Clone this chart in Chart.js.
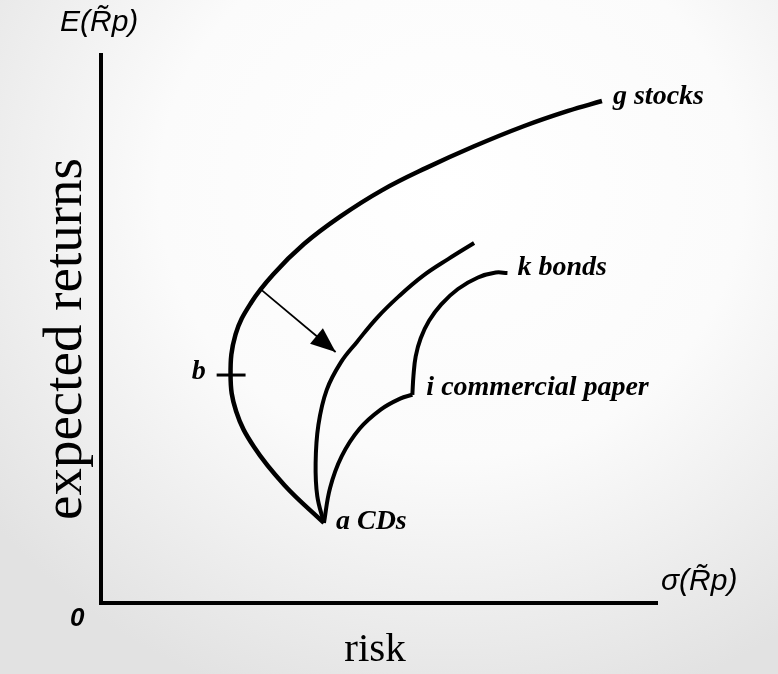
<!DOCTYPE html>
<html>
<head>
<meta charset="utf-8">
<style>
  html, body { margin: 0; padding: 0; background: #fff; }
  #wrap {
    width: 778px; height: 674px; position: relative;
    background: radial-gradient(ellipse 75% 80% at 58% 28%, #ffffff 0%, #fbfbfb 50%, #e2e2e2 100%);
  }
</style>
<script src="https://cdn.jsdelivr.net/npm/chart.js@4.4.1/dist/chart.umd.min.js"></script>
</head>
<body>
<div id="wrap"><canvas id="c" width="778" height="674"></canvas></div>
<script>
// Frontier with every asset (a CDs -> b -> g stocks)
const frontierRisk   = [40.1, 33.0, 27.5, 24.3, 23.3, 24.2, 27.0, 31.0, 36.5, 43.0, 50.5, 58.5, 67.0, 76.0, 84.0, 90.1];
const frontierReturn = [14.6, 21.5, 28.5, 35.0, 41.6, 49.0, 54.8, 60.0, 65.5, 70.5, 75.3, 79.4, 83.3, 87.0, 89.8, 91.6];

// Frontier after the shift (arrow)
const shiftedRisk   = [40.1, 38.9, 38.6, 39.1, 40.6, 43.2, 46.0, 49.6, 53.6, 57.9, 62.5, 67.1];
const shiftedReturn = [14.6, 19.5, 25.5, 32.5, 38.9, 44.0, 47.6, 52.0, 56.0, 59.7, 62.8, 65.7];

// a CDs -> i commercial paper
const paperRisk   = [40.1, 41.2, 43.3, 46.5, 50.3, 53.8, 56.0];
const paperReturn = [14.6, 21.0, 26.8, 31.8, 35.3, 37.3, 38.0];

// i commercial paper -> k bonds
const bondsRisk   = [56.0, 56.2, 56.6, 57.5, 59.0, 61.2, 64.2, 67.8, 71.0, 73.1];
const bondsReturn = [38.0, 41.5, 45.0, 48.3, 51.5, 54.5, 57.3, 59.4, 60.3, 60.2];

// arrow from the old frontier to the new one
const arrowRisk   = [28.9, 42.2];
const arrowReturn = [57.1, 45.8];

// tick at b (minimum variance point)
const tickRisk   = [20.8, 26.0];
const tickReturn = [41.6, 41.6];

const toPoints = (xs, ys) => xs.map((v, i) => ({ x: v, y: ys[i] }));

function curve(xs, ys, width, tension) {
  return {
    data: toPoints(xs, ys),
    showLine: true,
    borderColor: '#000',
    borderWidth: width,
    pointRadius: 0,
    tension: tension,
    fill: false,
  };
}

// labels tied to points on the curves
const pointLabels = [
  { text: 'g stocks', x: frontierRisk[frontierRisk.length - 1], y: frontierReturn[frontierReturn.length - 1], dx: 11, dy: -4, align: 'left' },
  { text: 'k bonds', x: bondsRisk[bondsRisk.length - 1], y: bondsReturn[bondsReturn.length - 1], dx: 10, dy: -5, align: 'left' },
  { text: 'i commercial paper', x: paperRisk[paperRisk.length - 1], y: paperReturn[paperReturn.length - 1], dx: 14, dy: -7, align: 'left' },
  { text: 'a CDs', x: frontierRisk[0], y: frontierReturn[0], dx: 12, dy: -1, align: 'left' },
  { text: 'b', x: tickRisk[0], y: tickReturn[0], dx: -11, dy: -3, align: 'right' },
];

const notes = {
  id: 'notes',
  afterDatasetsDraw(chart) {
    const { ctx, chartArea: area, scales: { x, y } } = chart;
    ctx.save();
    ctx.fillStyle = '#000';

    // arrow head
    const x0 = x.getPixelForValue(arrowRisk[0]), y0 = y.getPixelForValue(arrowReturn[0]);
    const x1 = x.getPixelForValue(arrowRisk[1]), y1 = y.getPixelForValue(arrowReturn[1]);
    const ang = Math.atan2(y1 - y0, x1 - x0);
    const len = 25, half = 10;
    ctx.beginPath();
    ctx.moveTo(x1, y1);
    ctx.lineTo(x1 - len * Math.cos(ang) + half * Math.sin(ang), y1 - len * Math.sin(ang) - half * Math.cos(ang));
    ctx.lineTo(x1 - len * Math.cos(ang) - half * Math.sin(ang), y1 - len * Math.sin(ang) + half * Math.cos(ang));
    ctx.closePath();
    ctx.fill();

    // curve labels
    ctx.font = 'italic bold 28px "Liberation Serif"';
    ctx.textBaseline = 'middle';
    pointLabels.forEach(l => {
      ctx.textAlign = l.align;
      ctx.fillText(l.text, x.getPixelForValue(l.x) + l.dx, y.getPixelForValue(l.y) + l.dy);
    });

    // axis symbols
    ctx.font = 'italic 30px "Liberation Sans"';
    ctx.textAlign = 'left';
    ctx.fillText('E(R\u0303p)', area.left - 41, area.top - 32);
    ctx.fillText('\u03c3(R\u0303p)', area.right + 4, area.bottom - 21);
    ctx.font = 'italic bold 26px "Liberation Sans"';
    ctx.fillText('0', area.left - 31, area.bottom + 16);

    // axis names
    ctx.font = '41px "Liberation Serif"';
    ctx.textAlign = 'center';
    ctx.textBaseline = 'alphabetic';
    ctx.fillText('risk', area.left + 274, area.bottom + 58);
    ctx.translate(area.left - 20, area.top + 284);
    ctx.rotate(-Math.PI / 2);
    ctx.font = '55px "Liberation Serif"';
    ctx.fillText('expected returns', 0, 0);
    ctx.restore();
  }
};

const axis = {
  type: 'linear',
  min: 0,
  max: 100,
  grid: { display: false, drawTicks: false },
  ticks: { display: false },
  border: { display: true, color: '#000', width: 4 },
};

new Chart(document.getElementById('c'), {
  type: 'scatter',
  data: {
    datasets: [
      curve(frontierRisk, frontierReturn, 4.5, 0.4),
      curve(shiftedRisk, shiftedReturn, 4, 0.4),
      curve(paperRisk, paperReturn, 4, 0.4),
      curve(bondsRisk, bondsReturn, 4, 0.4),
      curve(arrowRisk, arrowReturn, 1.8, 0),
      curve(tickRisk, tickReturn, 3, 0),
    ],
  },
  options: {
    responsive: false,
    animation: false,
    devicePixelRatio: 1,
    layout: { padding: { left: 101, right: 121, top: 55, bottom: 71 } },
    scales: { x: axis, y: axis },
    plugins: { legend: { display: false }, tooltip: { enabled: false } },
  },
  plugins: [notes],
});
</script>
</body>
</html>
